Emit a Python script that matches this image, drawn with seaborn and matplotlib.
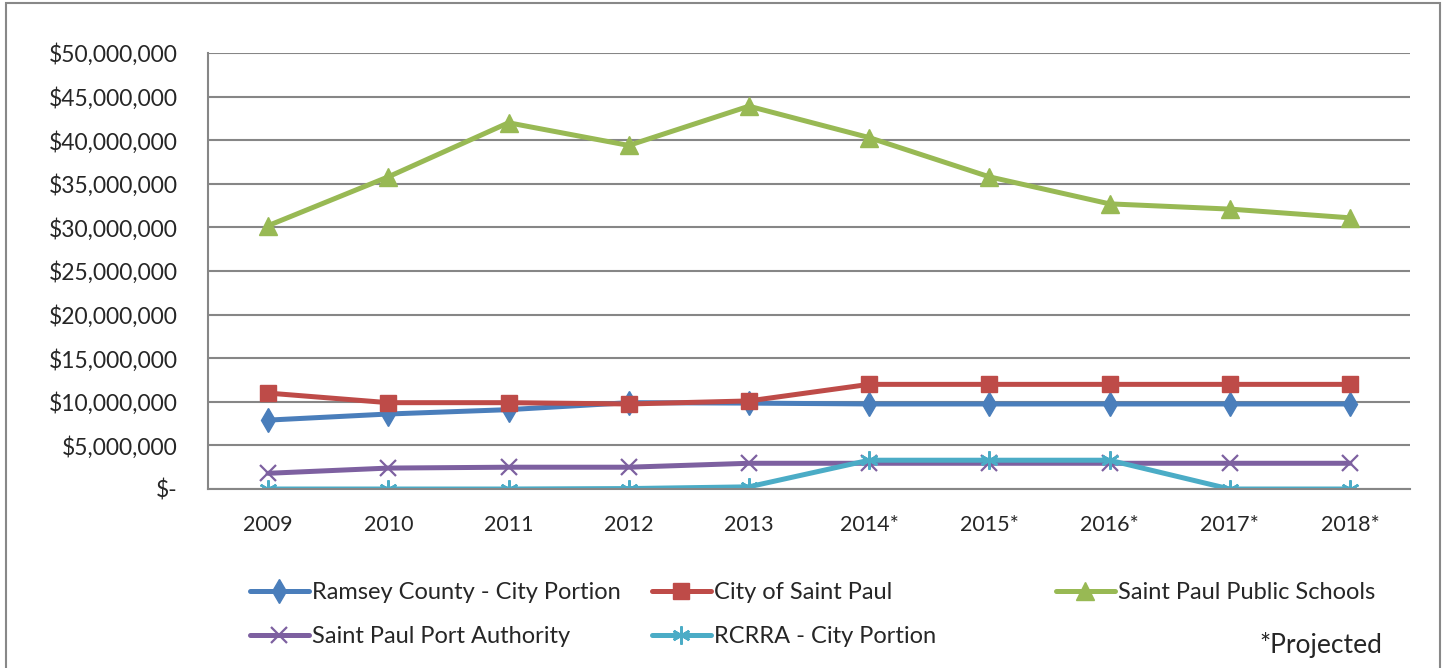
import numpy as np
import pandas as pd
import matplotlib
matplotlib.use("Agg")
import matplotlib.pyplot as plt
import seaborn as sns
from matplotlib.lines import Line2D
from matplotlib.patches import Rectangle
from matplotlib.ticker import FuncFormatter, FixedLocator

# Valores (em dólares)
years = ["2009", "2010", "2011", "2012", "2013", "2014*", "2015*", "2016*", "2017*", "2018*"]
ramsey = [7.9e6, 8.6e6, 9.1e6, 9.9e6, 9.85e6, 9.75e6, 9.75e6, 9.75e6, 9.75e6, 9.75e6]
city = [11.0e6, 9.9e6, 9.9e6, 9.75e6, 10.1e6, 12.0e6, 12.0e6, 12.0e6, 12.0e6, 12.0e6]
schools = [30.2e6, 35.8e6, 42.0e6, 39.4e6, 43.9e6, 40.3e6, 35.8e6, 32.7e6, 32.1e6, 31.1e6]
port = [1.8e6, 2.4e6, 2.5e6, 2.5e6, 2.95e6, 2.95e6, 2.95e6, 2.95e6, 2.95e6, 2.95e6]
rcrra = [0.0, 0.0, 0.0, 0.05e6, 0.25e6, 3.3e6, 3.3e6, 3.3e6, 0.0, 0.0]

series_names = ["Ramsey County - City Portion", "City of Saint Paul", "Saint Paul Public Schools",
                "Saint Paul Port Authority", "RCRRA - City Portion"]
series_vals = [ramsey, city, schools, port, rcrra]

estilos = {
    "Ramsey County - City Portion": dict(color="#4A7EBB", marker="d", ms=12, mew=1),
    "City of Saint Paul": dict(color="#BE4B48", marker="s", ms=11, mew=1),
    "Saint Paul Public Schools": dict(color="#98B954", marker="^", ms=13, mew=1),
    "Saint Paul Port Authority": dict(color="#7D60A0", marker="x", ms=11, mew=1.6),
    "RCRRA - City Portion": dict(color="#4BACC6", marker=(6, 2, 0), ms=13, mew=1.8),
}

sns.set_style("white")
plt.rcParams["font.family"] = ["Lato", "DejaVu Sans"]

fig = plt.figure(figsize=(14.45, 6.68), dpi=100)
ax = fig.add_axes([208 / 1445, 1 - 489 / 668, (1410 - 208) / 1445, (489 - 53) / 668])

for nome, vals in zip(series_names, series_vals):
    st = estilos[nome]
    df = pd.DataFrame({"ano": years, "valor": vals})
    sns.lineplot(data=df, x="ano", y="valor", ax=ax, color=st["color"], linewidth=3.6,
                 marker=st["marker"], markersize=st["ms"], markeredgewidth=st["mew"],
                 markeredgecolor=st["color"], markerfacecolor=st["color"], sort=False, legend=False)

ax.set_xlim(-0.5, len(years) - 0.5)
ax.set_ylim(0, 50e6)
ax.set_yticks(np.arange(0, 50e6 + 1, 5e6))
ax.yaxis.set_major_formatter(FuncFormatter(lambda v, p: "$-" if v == 0 else f"${v:,.0f}"))
ax.set_xticks(range(len(years)))
ax.set_xticklabels(years)
ax.xaxis.set_minor_locator(FixedLocator(np.arange(-0.5, len(years), 1.0)))
ax.set_xlabel("")
ax.set_ylabel("")

grid_c = "#868686"
ax.grid(axis="y", color=grid_c, linewidth=1.5)
ax.set_axisbelow(True)
for s in ["top", "right"]:
    ax.spines[s].set_visible(False)
for s in ["left", "bottom"]:
    ax.spines[s].set_color(grid_c)
    ax.spines[s].set_linewidth(1.5)
ax.tick_params(axis="y", which="major", length=8, width=1.5, color=grid_c, labelsize=16.5, pad=14)
ax.tick_params(axis="x", which="major", length=0, labelsize=15.5, pad=19)
ax.tick_params(axis="x", which="minor", length=8, width=1.5, color=grid_c)

# Legenda em três colunas posicionadas manualmente
def handle(nome):
    st = estilos[nome]
    return Line2D([], [], color=st["color"], linewidth=3.6, marker=st["marker"],
                  markersize=st["ms"], markeredgewidth=st["mew"], markeredgecolor=st["color"],
                  markerfacecolor=st["color"])

colunas = [(["Ramsey County - City Portion", "Saint Paul Port Authority"], 238),
           (["City of Saint Paul", "RCRRA - City Portion"], 640),
           (["Saint Paul Public Schools"], 1044)]
for nomes, x0 in colunas:
    leg = fig.legend([handle(n) for n in nomes], nomes, loc="upper left",
                     bbox_to_anchor=(x0 / 1445, 1 - 570 / 668), frameon=False, fontsize=17,
                     handlelength=2.5, handletextpad=0.15, labelspacing=0.98, borderpad=0.0)

fig.text(1259 / 1445, 1 - 645 / 668, "*Projected", fontsize=19, va="center", ha="left")

fig.patches.append(Rectangle((6 / 1445, -0.05), (1440 - 6) / 1445, 1 - 3 / 668 + 0.05,
                             transform=fig.transFigure, fill=False, edgecolor="#888888",
                             linewidth=1.5))

fig.savefig("out.png", dpi=100)
